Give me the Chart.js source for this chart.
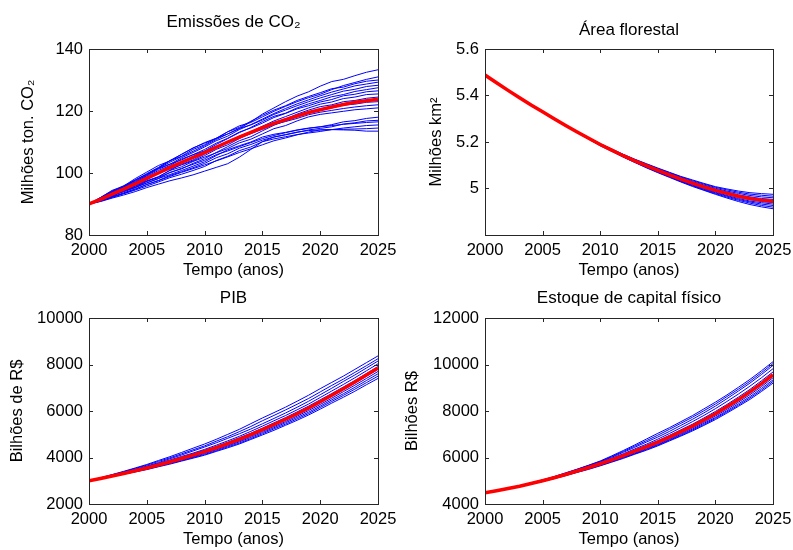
<!DOCTYPE html>
<html lang="pt">
<head>
<meta charset="UTF-8">
<title>Simulações 2000-2025</title>
<script src="https://cdn.jsdelivr.net/npm/chart.js@4.4.0/dist/chart.umd.min.js"></script>
<style>
  html, body { margin: 0; padding: 0; background: #fff; }
  #wrap { position: relative; width: 793px; height: 550px; overflow: hidden; }
  canvas { position: absolute; }
</style>
</head>
<body>
<div id="wrap">
  <canvas id="co2Chart" width="396" height="285" style="left:0;top:0"></canvas>
  <canvas id="forestChart" width="397" height="285" style="left:396px;top:0"></canvas>
  <canvas id="gdpChart" width="396" height="285" style="left:0;top:265px"></canvas>
  <canvas id="capitalChart" width="397" height="285" style="left:396px;top:265px"></canvas>
</div>
<script>
const FONT = '"Liberation Sans", Arial, sans-serif';

const years = [2000,2001,2002,2003,2004,2005,2006,2007,2008,2009,2010,2011,2012,2013,2014,2015,2016,2017,2018,2019,2020,2021,2022,2023,2024,2025];
const yearTicks = [2000, 2005, 2010, 2015, 2020, 2025];
const co2Ticks = [80, 100, 120, 140];
const forestTicks = [5, 5.2, 5.4, 5.6];
const gdpTicks = [2000, 4000, 6000, 8000, 10000];
const capitalTicks = [4000, 6000, 8000, 10000, 12000];

// Emissões de CO2 (milhões ton.)
const co2Mean = [90,91.5,93.2,94.8,96.5,98.3,100,101.8,103.4,105,106.6,108.3,110,111.6,113.1,114.6,116,117.2,118.4,119.5,120.4,121.3,122.1,122.8,123.3,123.8];
const co2Runs = [
  [90,91.8,93.8,95.5,97.6,99.6,101.5,103.5,105.3,107.0,108.8,110.8,112.6,114.3,116.5,119.0,121.0,123.0,124.8,126.2,128.0,129.5,130.2,131.4,132.5,133.3],
  [90,92.1,94.4,95.8,98.2,100.3,102.4,103.9,106.0,108.1,109.6,111.1,113.3,115.2,116.3,118.1,119.9,121.5,123.0,124.3,125.4,126.9,128.2,129.2,130.2,131.0],
  [90,91.7,94.0,95.9,97.7,99.8,101.8,104.0,105.4,107.6,109.1,111.2,113.3,114.7,116.7,118.6,120.3,121.7,123.4,124.7,125.9,127.2,127.7,128.8,129.6,130.0],
  [90,91.3,93.5,95.3,96.9,99.1,101.2,102.8,104.9,106.6,108.4,110.4,111.9,114.0,115.6,117.4,119.2,120.8,122.3,123.6,124.9,126.1,127.1,128.1,128.7,129.3],
  [90,91.9,93.4,95.4,97.3,99.3,101.6,104.0,106.0,108.0,109.8,111.2,112.6,114.4,115.5,117.1,118.9,120.3,121.7,123.0,124.2,125.3,126.4,127.0,127.9,128.3],
  [90,91.2,92.6,94.6,95.8,97.8,99.8,101.9,103.4,105.4,107.1,109.2,111.1,113.0,114.7,116.6,118.3,119.3,121.0,122.3,123.4,124.6,125.3,126.3,126.9,127.5],
  [90,92.0,93.9,95.1,97.1,98.8,100.8,102.4,104.5,105.9,107.6,109.6,111.2,113.2,114.5,116.1,117.9,119.2,120.7,121.7,122.9,123.7,124.9,125.4,126.2,126.5],
  [90,91.1,92.4,94.2,95.3,97.3,98.7,100.9,102.8,104.2,106.1,108.1,110.0,111.9,113.3,115.1,116.8,118.2,119.6,121.0,122.2,122.9,124.0,124.5,125.3,125.5],
  [90,91.7,93.7,94.9,96.9,98.6,99.8,101.3,102.6,103.9,105.6,107.6,109.1,111.1,112.8,114.6,116.3,117.4,119.0,120.3,121.4,122.0,123.0,123.4,124.1,124.5],
  [90,91.0,92.8,93.9,95.3,96.8,98.2,100.2,101.3,103.1,104.6,106.6,108.5,110.4,111.7,113.6,115.4,116.8,118.2,119.6,120.4,121.0,121.9,122.2,122.8,123.0],
  [90,92.1,94.2,95.6,97.8,99.5,101.5,102.9,104.2,105.9,107.1,108.6,110.1,111.4,112.7,114.1,115.7,116.6,117.6,118.8,119.6,120.2,120.8,121.3,121.7,122.0],
  [90,91.2,93.1,94.3,96.1,97.5,98.8,100.8,102.0,103.7,105.1,106.5,107.9,109.7,110.9,112.6,114.3,115.3,116.8,118.1,118.9,119.4,119.9,120.4,120.7,121.0],
  [90,91.6,92.9,94.2,95.7,97.3,98.6,100.1,101.5,102.8,104.1,105.9,107.1,108.5,109.8,111.1,112.1,113.0,113.8,114.4,114.9,115.6,116.5,116.9,117.6,118.0],
  [90,91.0,92.3,93.6,94.9,96.3,97.6,99.2,100.4,101.7,103.1,104.9,106.2,108.0,109.2,110.6,111.6,112.3,113.1,113.9,114.4,114.9,115.8,116.2,116.8,117.0],
  [90,91.3,92.6,94.3,95.4,96.8,98.2,99.5,100.8,102.2,103.6,105.6,107.5,108.8,110.0,111.6,112.5,113.1,113.9,114.5,114.9,115.3,115.7,116.0,116.3,116.5],
  [90,90.9,92.1,93.3,94.5,95.8,97.1,98.5,99.6,100.8,102.1,104.0,105.4,107.2,108.4,110.1,111.0,111.7,112.4,112.9,113.4,114.0,114.5,114.9,115.3,115.5],
  [90,90.8,91.9,92.9,94.0,95.3,96.4,97.5,98.4,99.4,100.6,101.8,103.0,105.1,107.6,110.1,111.6,112.4,113.2,113.7,113.9,114.0,114.1,114.2,114.3,114.5],
  [90,91.1,92.3,93.4,94.7,96.3,97.5,98.9,100.2,101.4,102.6,103.9,105.2,106.6,107.8,109.1,110.4,111.3,112.3,113.2,113.9,114.0,113.9,113.8,113.5,113.5]
];

// Área florestal (milhões km2)
const forestMean = [5.488,5.455,5.422,5.390,5.359,5.330,5.300,5.271,5.243,5.216,5.189,5.165,5.141,5.119,5.098,5.078,5.059,5.040,5.023,5.007,4.992,4.979,4.967,4.957,4.950,4.945];
const forestRuns = [
  [5.488,5.455,5.422,5.391,5.360,5.331,5.302,5.273,5.246,5.219,5.193,5.170,5.147,5.126,5.107,5.088,5.070,5.052,5.037,5.022,5.008,4.998,4.989,4.982,4.978,4.975],
  [5.488,5.455,5.422,5.390,5.360,5.331,5.301,5.273,5.245,5.219,5.192,5.169,5.146,5.125,5.105,5.086,5.068,5.050,5.034,5.019,5.005,4.994,4.984,4.976,4.971,4.967],
  [5.488,5.455,5.422,5.390,5.359,5.331,5.301,5.272,5.245,5.218,5.191,5.168,5.144,5.123,5.102,5.083,5.065,5.047,5.030,5.015,5.001,4.989,4.979,4.970,4.964,4.960],
  [5.488,5.455,5.422,5.390,5.359,5.330,5.300,5.272,5.244,5.217,5.190,5.166,5.143,5.121,5.101,5.081,5.062,5.044,5.027,5.012,4.997,4.985,4.973,4.964,4.957,4.953],
  [5.488,5.455,5.422,5.390,5.359,5.330,5.300,5.271,5.243,5.216,5.189,5.165,5.141,5.120,5.099,5.079,5.059,5.040,5.024,5.007,4.992,4.980,4.968,4.959,4.952,4.947],
  [5.488,5.455,5.422,5.390,5.359,5.330,5.300,5.271,5.242,5.215,5.188,5.164,5.140,5.117,5.096,5.076,5.057,5.037,5.020,5.003,4.988,4.975,4.962,4.952,4.944,4.939],
  [5.488,5.455,5.422,5.390,5.359,5.330,5.299,5.270,5.242,5.214,5.187,5.163,5.138,5.116,5.094,5.074,5.054,5.035,5.017,5.000,4.984,4.970,4.957,4.946,4.939,4.933],
  [5.488,5.455,5.422,5.390,5.359,5.329,5.299,5.270,5.241,5.214,5.186,5.162,5.137,5.114,5.093,5.072,5.052,5.032,5.014,4.997,4.981,4.967,4.953,4.942,4.933,4.927],
  [5.488,5.455,5.422,5.390,5.358,5.329,5.299,5.269,5.241,5.213,5.185,5.161,5.136,5.113,5.091,5.070,5.050,5.030,5.012,4.994,4.978,4.963,4.949,4.937,4.927,4.920],
  [5.488,5.455,5.422,5.389,5.358,5.329,5.298,5.269,5.240,5.212,5.184,5.160,5.135,5.112,5.089,5.068,5.048,5.028,5.009,4.992,4.975,4.959,4.944,4.931,4.921,4.913]
];

// PIB (bilhões de R$)
const gdpMean = [3000,3100,3205,3315,3430,3550,3680,3815,3955,4100,4250,4420,4595,4780,4985,5200,5420,5645,5880,6130,6400,6680,6960,7250,7550,7850];
const gdpRuns = [
  [3000,3130,3265,3405,3550,3700,3870,4035,4215,4400,4580,4780,4995,5210,5455,5700,5930,6165,6420,6680,6960,7230,7500,7790,8080,8370],
  [3000,3120,3255,3385,3530,3670,3830,3985,4155,4330,4500,4700,4895,5110,5335,5580,5810,6045,6290,6540,6820,7100,7370,7660,7950,8250],
  [3000,3110,3235,3365,3490,3630,3780,3945,4105,4280,4450,4630,4825,5020,5225,5450,5680,5915,6160,6420,6700,6980,7270,7550,7850,8150],
  [3000,3110,3225,3345,3480,3610,3750,3895,4045,4190,4350,4530,4715,4910,5125,5350,5580,5805,6050,6300,6580,6860,7140,7430,7730,8030],
  [3000,3100,3215,3335,3450,3580,3720,3855,4005,4160,4310,4470,4655,4850,5045,5260,5490,5715,5960,6210,6480,6750,7030,7310,7610,7910],
  [3000,3100,3195,3315,3420,3550,3690,3815,3945,4100,4250,4410,4585,4760,4975,5180,5400,5615,5860,6100,6370,6640,6920,7200,7500,7790],
  [3000,3090,3195,3295,3410,3530,3650,3785,3915,4050,4200,4360,4535,4710,4915,5120,5330,5545,5780,6020,6280,6550,6830,7110,7400,7700],
  [3000,3090,3185,3295,3400,3510,3630,3765,3895,4030,4170,4330,4495,4670,4865,5070,5280,5495,5720,5950,6210,6480,6740,7020,7310,7600],
  [3000,3090,3185,3285,3390,3500,3620,3745,3865,4000,4130,4290,4455,4620,4815,5020,5230,5435,5660,5890,6150,6410,6670,6940,7220,7500],
  [3000,3090,3185,3285,3380,3480,3600,3715,3845,3970,4100,4260,4415,4580,4775,4970,5170,5385,5600,5830,6080,6340,6590,6850,7130,7400]
];

// Estoque de capital físico (bilhões R$)
const capitalMean = [4480,4570,4665,4765,4880,5000,5130,5270,5420,5570,5730,5900,6080,6270,6460,6660,6880,7110,7350,7610,7880,8180,8490,8820,9180,9560];
const capitalRuns = [
  [4480,4580,4675,4785,4910,5040,5180,5340,5500,5670,5850,6070,6300,6540,6790,7040,7280,7540,7800,8090,8380,8690,9020,9360,9730,10120],
  [4480,4570,4675,4785,4900,5030,5170,5330,5490,5660,5830,6040,6260,6490,6720,6960,7210,7470,7730,8010,8300,8620,8940,9280,9650,10040],
  [4480,4570,4675,4775,4900,5020,5160,5310,5480,5640,5810,6010,6220,6440,6660,6880,7120,7380,7640,7920,8210,8530,8860,9200,9570,9960],
  [4480,4570,4665,4775,4890,5020,5150,5300,5460,5610,5780,5970,6160,6370,6570,6790,7030,7280,7540,7810,8100,8410,8730,9070,9430,9820],
  [4480,4570,4665,4765,4890,5010,5140,5290,5440,5600,5760,5940,6120,6320,6520,6720,6950,7190,7430,7700,7980,8280,8600,8930,9300,9680],
  [4480,4570,4665,4765,4880,5000,5130,5260,5420,5570,5730,5910,6080,6270,6450,6660,6870,7100,7330,7600,7860,8160,8460,8790,9140,9520],
  [4480,4570,4665,4765,4870,4990,5120,5250,5400,5540,5700,5860,6040,6220,6410,6600,6810,7030,7270,7520,7780,8070,8380,8700,9050,9430],
  [4480,4570,4665,4755,4870,4980,5110,5240,5380,5530,5680,5840,6010,6190,6370,6560,6770,6990,7220,7470,7720,8010,8310,8620,8970,9340],
  [4480,4570,4655,4755,4860,4970,5100,5230,5370,5510,5660,5820,5990,6160,6340,6530,6740,6950,7180,7420,7680,7960,8250,8560,8900,9270],
  [4480,4570,4655,4755,4860,4970,5090,5220,5360,5490,5640,5800,5960,6140,6310,6500,6710,6920,7140,7380,7630,7910,8200,8500,8840,9200]
];

// box around the plot area with short inward ticks on all four sides
const matlabAxes = {
  id: 'matlabAxes',
  afterDatasetsDraw(chart) {
    const { ctx, chartArea: a, scales: { x, y } } = chart;
    const len = 4;
    ctx.save();
    ctx.strokeStyle = '#262626';
    ctx.lineWidth = 1;
    ctx.beginPath();
    x.ticks.forEach(t => {
      const px = Math.round(x.getPixelForValue(t.value)) + 0.5;
      ctx.moveTo(px, a.bottom); ctx.lineTo(px, a.bottom - len);
      ctx.moveTo(px, a.top); ctx.lineTo(px, a.top + len);
    });
    y.ticks.forEach(t => {
      const py = Math.round(y.getPixelForValue(t.value)) + 0.5;
      ctx.moveTo(a.left, py); ctx.lineTo(a.left + len, py);
      ctx.moveTo(a.right, py); ctx.lineTo(a.right - len, py);
    });
    ctx.stroke();
    ctx.strokeRect(Math.round(a.left) + 0.5, Math.round(a.top) + 0.5,
                   Math.round(a.right - a.left), Math.round(a.bottom - a.top));
    ctx.restore();
  }
};

function makePanel(id, o) {
  const toPts = arr => arr.map((v, i) => ({ x: years[i], y: v }));
  const datasets = [{ data: toPts(o.mean), borderColor: '#ff0000', borderWidth: 3.5 }]
    .concat(o.runs.map(r => ({ data: toPts(r), borderColor: '#0000ff', borderWidth: 1 })));

  new Chart(document.getElementById(id), {
    type: 'line',
    data: { datasets },
    options: {
      responsive: false,
      animation: false,
      layout: { padding: { left: 0, right: o.padRight, top: 0, bottom: 0 } },
      elements: { point: { radius: 0 }, line: { tension: 0 } },
      plugins: { legend: { display: false }, tooltip: { enabled: false } },
      scales: {
        x: {
          type: 'linear',
          min: 2000,
          max: 2025,
          grid: { display: false, drawTicks: false },
          border: { display: false },
          afterBuildTicks: s => { s.ticks = yearTicks.map(v => ({ value: v })); },
          ticks: {
            padding: 6, color: '#000', maxRotation: 0, autoSkip: false,
            font: { family: FONT, size: 16.5 },
            callback: v => String(v)
          },
          title: {
            display: true, text: 'Tempo (anos)', color: '#000',
            font: { family: FONT, size: 16.5, lineHeight: 1.2 },
            padding: { top: 0, bottom: o.xTitleBottom }
          },
          afterFit: s => { s.height = o.xHeight; s.paddingLeft = 0; s.paddingRight = 0; }
        },
        // top axis only carries the panel title, centred over the plot box
        top: {
          type: 'linear',
          position: 'top',
          min: 2000,
          max: 2025,
          grid: { display: false, drawTicks: false },
          border: { display: false },
          ticks: { display: false },
          title: {
            display: true, text: o.title, color: '#000',
            font: { family: FONT, size: 17, lineHeight: 1.2 },
            padding: { top: o.titleTop, bottom: 0 }
          },
          afterFit: s => { s.height = o.topHeight; s.paddingLeft = 0; s.paddingRight = 0; }
        },
        y: {
          type: 'linear',
          min: o.yMin,
          max: o.yMax,
          grid: { display: false, drawTicks: false },
          border: { display: false },
          afterBuildTicks: s => { s.ticks = o.yTicks.map(v => ({ value: v })); },
          ticks: {
            padding: 6, color: '#000',
            font: { family: FONT, size: 16.5 },
            callback: o.yFmt
          },
          title: {
            display: true, text: o.yTitle, color: '#000',
            font: { family: FONT, size: 16.5, lineHeight: 1.2 },
            padding: { top: o.yTitlePad, bottom: 0 }
          },
          afterFit: s => { s.width = 89; s.paddingTop = 0; s.paddingBottom = 0; }
        }
      }
    },
    plugins: [matlabAxes]
  });
}

makePanel('co2Chart', {
  title: 'Emissões de CO₂', titleTop: 11.8, topHeight: 49,
  yTitle: 'Milhões ton. CO₂', yTitlePad: 18.1,
  yMin: 80, yMax: 140, yTicks: co2Ticks, yFmt: v => String(v),
  mean: co2Mean, runs: co2Runs,
  padRight: 18, xHeight: 50, xTitleBottom: 5.1
});

makePanel('forestChart', {
  title: 'Área florestal', titleTop: 20.3, topHeight: 49,
  yTitle: 'Milhões km²', yTitlePad: 30.6,
  yMin: 4.8, yMax: 5.6, yTicks: forestTicks, yFmt: v => String(+v.toFixed(1)),
  mean: forestMean, runs: forestRuns,
  padRight: 20, xHeight: 50, xTitleBottom: 5.1
});

makePanel('gdpChart', {
  title: 'PIB', titleTop: 22.8, topHeight: 53,
  yTitle: 'Bilhões de R$', yTitlePad: 7.6,
  yMin: 2000, yMax: 10000, yTicks: gdpTicks, yFmt: v => String(v),
  mean: gdpMean, runs: gdpRuns,
  padRight: 18, xHeight: 46, xTitleBottom: 1.1
});

makePanel('capitalChart', {
  title: 'Estoque de capital físico', titleTop: 22.8, topHeight: 53,
  yTitle: 'Bilhões R$', yTitlePad: 6.6,
  yMin: 4000, yMax: 12000, yTicks: capitalTicks, yFmt: v => String(v),
  mean: capitalMean, runs: capitalRuns,
  padRight: 20, xHeight: 46, xTitleBottom: 1.1
});
</script>
</body>
</html>
